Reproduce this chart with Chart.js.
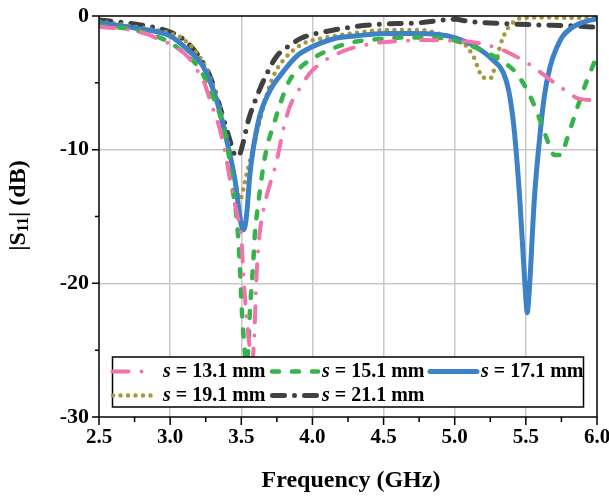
<!DOCTYPE html>
<html><head><meta charset="utf-8">
<script src="https://cdn.jsdelivr.net/npm/chart.js@4.4.1/dist/chart.umd.min.js"></script>
<style>html,body{margin:0;padding:0;background:#fff;}#wrap{width:609px;height:498px;position:relative;}</style>
</head><body><div id="wrap"><canvas id="c" width="609" height="498"></canvas></div>
<script>
// ---- tick labels ----
const xTickValues = [2.5, 3.0, 3.5, 4.0, 4.5, 5.0, 5.5, 6.0];
const xTickLabels = ['2.5', '3.0', '3.5', '4.0', '4.5', '5.0', '5.5', '6.0'];
const yTickValues = [0, -10, -20, -30];
const yTickLabels = ['0', '-10', '-20', '-30'];
const seriesLabels = ['s = 13.1 mm', 's = 15.1 mm', 's = 17.1 mm', 's = 19.1 mm', 's = 21.1 mm'];

// ---- series: s = 13.1 mm ----
const f13 = [2.5, 2.72, 2.85, 2.93, 3.0, 3.12, 3.187, 3.24, 3.28, 3.35, 3.397, 3.43, 3.47, 3.5, 3.514, 3.533, 3.556, 3.572, 3.59, 3.608, 3.627, 3.66, 3.75, 3.795, 3.84, 3.89, 3.98, 4.07, 4.2, 4.4, 4.64, 4.8, 4.97, 5.15, 5.3, 5.39, 5.55, 5.65, 5.74, 5.88, 6.0];
const s13 = [-0.8, -1.05, -1.4, -1.8, -2.1, -3.0, -4.0, -5.0, -6.3, -8.5, -10.8, -12.8, -14.8, -16.5, -19.25, -22, -24.5, -26.3, -24.2, -19.25, -16.5, -14.3, -10.8, -8.5, -6.8, -5.8, -4.3, -3.45, -2.7, -2.1, -1.85, -1.8, -1.85, -2.0, -2.4, -2.8, -3.8, -4.6, -5.3, -6.2, -6.3];
// ---- series: s = 15.1 mm ----
const f15 = [2.5, 2.75, 3.0, 3.1, 3.21, 3.3, 3.374, 3.42, 3.444, 3.47, 3.49, 3.5, 3.514, 3.526, 3.538, 3.55, 3.561, 3.573, 3.585, 3.596, 3.615, 3.667, 3.737, 3.83, 3.9, 4.03, 4.15, 4.29, 4.5, 4.69, 4.9, 5.13, 5.32, 5.435, 5.53, 5.6, 5.67, 5.7, 5.75, 5.786, 5.857, 5.93, 6.0];
const s15 = [-0.7, -1.05, -2.0, -2.8, -4.0, -6.0, -8.3, -11.0, -13.3, -15.4, -18.75, -21.2, -23.7, -25.2, -26.0, -24.7, -22.0, -20.2, -18.25, -16.25, -14.4, -10.5, -7.8, -5.0, -4.0, -3.0, -2.4, -1.95, -1.7, -1.6, -1.65, -2.3, -3.3, -4.3, -6.0, -7.8, -9.8, -10.4, -10.4, -9.3, -7.0, -4.8, -3.0];
// ---- series: s = 17.1 mm ----
const f17 = [2.5, 2.75, 3.0, 3.12, 3.233, 3.327, 3.397, 3.456, 3.49, 3.503, 3.515, 3.527, 3.54, 3.561, 3.62, 3.7, 3.77, 3.89, 3.98, 4.15, 4.3, 4.5, 4.7, 4.9, 5.01, 5.13, 5.27, 5.34, 5.38, 5.416, 5.458, 5.49, 5.503, 5.51, 5.517, 5.53, 5.559, 5.6, 5.63, 5.67, 5.72, 5.76, 5.82, 5.88, 5.94, 6.0];
const s17 = [-0.5, -0.9, -1.5, -2.5, -3.8, -6.3, -9.3, -12.3, -15.0, -15.75, -16.0, -15.7, -14.6, -11.8, -7.9, -5.6, -4.5, -3.0, -2.4, -1.7, -1.5, -1.3, -1.3, -1.4, -1.65, -2.2, -3.3, -4.2, -5.6, -8.3, -13.8, -19.5, -21.6, -22.2, -21.6, -19.5, -13.8, -8.8, -6.0, -3.8, -2.3, -1.5, -0.9, -0.55, -0.35, -0.2];
// ---- series: s = 19.1 mm ----
const f19 = [2.5, 2.75, 3.0, 3.09, 3.233, 3.327, 3.397, 3.444, 3.49, 3.538, 3.585, 3.655, 3.725, 3.84, 3.95, 4.07, 4.28, 4.52, 4.76, 4.9, 4.99, 5.05, 5.13, 5.2, 5.25, 5.29, 5.32, 5.365, 5.42, 5.46, 5.6, 6.0];
const s19 = [-0.4, -0.8, -1.3, -1.7, -3.5, -6.0, -9.0, -11.5, -13.7, -11.8, -9.8, -6.8, -4.5, -2.8, -2.0, -1.67, -1.3, -1.05, -1.05, -1.35, -1.6, -1.9, -3.0, -4.6, -4.66, -3.5, -2.2, -1.05, -0.4, -0.17, -0.12, -0.15];
// ---- series: s = 21.1 mm ----
const f21 = [2.5, 2.75, 3.0, 3.1, 3.187, 3.28, 3.35, 3.42, 3.455, 3.48, 3.51, 3.55, 3.61, 3.68, 3.75, 3.84, 3.92, 4.15, 4.4, 4.76, 5.0, 5.1, 5.3, 5.6, 5.8, 6.0];
const s21 = [-0.3, -0.6, -1.2, -1.8, -2.8, -4.5, -6.8, -9.3, -10.4, -10.5, -9.6, -7.8, -6.0, -4.3, -3.0, -2.2, -1.67, -1.05, -0.67, -0.5, -0.25, -0.4, -0.55, -0.67, -0.72, -0.85];

const colors = ['#F272AC', '#36B34B', '#3D82C6', '#A8963A', '#404040'];
const widths = [4, 4.5, 5, 4.5, 5];
const dashes = [[16, 13, 0, 13], [7, 13], [], [0, 7.5], [12, 10, 0, 10]];

const fs = [f13, f15, f17, f19, f21];
const ss = [s13, s15, s17, s19, s21];

const datasets = fs.map((f, k) => ({
  label: seriesLabels[k],
  data: f.map((x, i) => ({x: x, y: ss[k][i]})),
  showLine: true,
  borderColor: colors[k],
  backgroundColor: colors[k],
  borderWidth: widths[k],
  borderDash: dashes[k],
  borderCapStyle: 'round',
  borderJoinStyle: 'round',
  pointRadius: 0,
  fill: false,
  cubicInterpolationMode: 'monotone'
}));

const SERIF = "'Liberation Serif', 'Times New Roman', serif";

const decor = {
  id: 'decor',
  afterDatasetsDraw(chart) {
    const {ctx, chartArea: a, scales: {x, y}} = chart;
    ctx.save();
    ctx.setLineDash([]);
    ctx.strokeStyle = '#000';
    ctx.lineWidth = 1.5;
    ctx.lineCap = 'butt';
    ctx.strokeRect(a.left, a.top, a.right - a.left, a.bottom - a.top);
    // ticks
    ctx.beginPath();
    xTickValues.forEach((v, i) => {
      const px = x.getPixelForValue(v);
      ctx.moveTo(px, a.bottom); ctx.lineTo(px, a.bottom + 8);
      if (i < xTickValues.length - 1) {
        const pm = x.getPixelForValue((v + xTickValues[i + 1]) / 2);
        ctx.moveTo(pm, a.bottom); ctx.lineTo(pm, a.bottom + 5);
      }
    });
    yTickValues.forEach((v, i) => {
      const py = y.getPixelForValue(v);
      ctx.moveTo(a.left, py); ctx.lineTo(a.left - 7, py);
      if (i < yTickValues.length - 1) {
        const pm = y.getPixelForValue((v + yTickValues[i + 1]) / 2);
        ctx.moveTo(a.left, pm); ctx.lineTo(a.left - 4, pm);
      }
    });
    ctx.stroke();

    // legend box
    const L = a.left + 13.5, T = a.top + 341, W = 471, H = 50;
    ctx.fillStyle = '#fff';
    ctx.fillRect(L, T, W, H);
    ctx.strokeRect(L, T, W, H);
    const rows = [T + 14.5, T + 38.5];
    const items = [
      [0, 112.5, 148, 163], [0, 272, 318, 322], [0, 430, 477, 481],
      [1, 113, 157, 163], [1, 272.5, 318, 322]
    ];
    chart.data.datasets.forEach((ds, k) => {
      const [r, x0, x1, tx] = items[k];
      const yy = rows[r];
      ctx.save();
      ctx.strokeStyle = ds.borderColor;
      ctx.lineWidth = ds.borderWidth;
      ctx.lineCap = 'round';
      ctx.setLineDash(ds.borderDash);
      ctx.beginPath(); ctx.moveTo(x0, yy); ctx.lineTo(x1, yy); ctx.stroke();
      ctx.restore();
      ctx.fillStyle = '#000';
      ctx.textBaseline = 'middle';
      ctx.textAlign = 'left';
      const lab = ds.label;
      ctx.font = 'italic bold 20px ' + SERIF;
      ctx.fillText(lab.charAt(0), tx, yy);
      const w0 = ctx.measureText(lab.charAt(0)).width;
      ctx.font = 'bold 20px ' + SERIF;
      ctx.fillText(lab.slice(1), tx + w0, yy);
    });

    // x title
    ctx.fillStyle = '#000';
    ctx.font = 'bold 24px ' + SERIF;
    ctx.textAlign = 'center';
    ctx.textBaseline = 'middle';
    ctx.fillText('Frequency (GHz)', (a.left + a.right) / 2 + 3, 481);

    // y title with subscript
    ctx.save();
    ctx.translate(19, (a.top + a.bottom) / 2 - 11);
    ctx.rotate(-Math.PI / 2);
    ctx.textAlign = 'left';
    ctx.textBaseline = 'middle';
    const big = 'bold 24px ' + SERIF, small = 'bold 16px ' + SERIF;
    const parts = [['|S', big, 0], ['11', small, 5], ['| (dB)', big, 0]];
    let tw = 0;
    parts.forEach(p => { ctx.font = p[1]; tw += ctx.measureText(p[0]).width; });
    let cx = -tw / 2;
    parts.forEach(p => { ctx.font = p[1]; ctx.fillText(p[0], cx, p[2]); cx += ctx.measureText(p[0]).width; });
    ctx.restore();
    ctx.restore();
  }
};

new Chart(document.getElementById('c'), {
  type: 'scatter',
  data: {datasets: datasets},
  options: {
    responsive: false,
    animation: false,
    devicePixelRatio: 1,
    layout: {padding: {top: 16, right: 12, left: 0, bottom: 0}},
    plugins: {legend: {display: false}, tooltip: {enabled: false}},
    scales: {
      x: {
        type: 'linear', min: 2.5, max: 6.0,
        afterBuildTicks: s => { s.ticks = xTickValues.map(v => ({value: v})); },
        afterFit: s => { s.height = 81; s.paddingLeft = 0; s.paddingRight = 0; },
        ticks: {
          autoSkip: false, maxRotation: 0, padding: 0,
          color: '#000', font: {family: SERIF, size: 21, weight: 'bold'},
          callback: (v, i) => xTickLabels[i]
        },
        border: {display: false},
        grid: {
          color: c => (c.tick && (c.tick.value === 2.5 || c.tick.value === 6)) ? 'rgba(0,0,0,0)' : '#C8C8C8',
          lineWidth: 1.5, tickLength: 8, tickColor: 'rgba(0,0,0,0)'
        }
      },
      y: {
        type: 'linear', min: -30, max: 0,
        afterBuildTicks: s => { s.ticks = yTickValues.map(v => ({value: v})); },
        afterFit: s => { s.width = 99; s.paddingTop = 0; s.paddingBottom = 0; },
        ticks: {
          autoSkip: false, padding: 3,
          color: '#000', font: {family: SERIF, size: 22, weight: 'bold'},
          callback: (v, i) => yTickLabels[i]
        },
        border: {display: false},
        grid: {
          color: c => (c.tick && (c.tick.value === 0 || c.tick.value === -30)) ? 'rgba(0,0,0,0)' : '#C8C8C8',
          lineWidth: 1.5, tickLength: 7, tickColor: 'rgba(0,0,0,0)'
        }
      }
    }
  },
  plugins: [decor]
});
</script>
</body></html>
